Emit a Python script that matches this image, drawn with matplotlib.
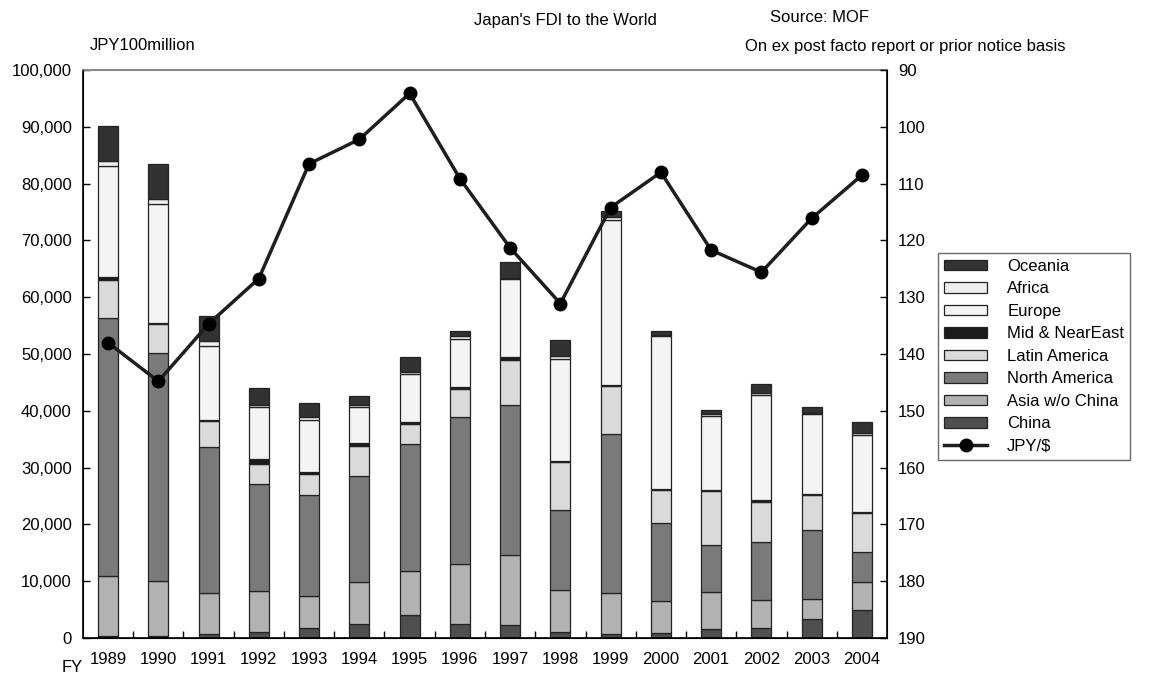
import numpy as np
import matplotlib
matplotlib.use("Agg")
import matplotlib.pyplot as plt
from matplotlib.ticker import FuncFormatter, FixedLocator

plt.rcParams['font.family'] = ['Liberation Sans', 'DejaVu Sans']

# Japan's FDI by region, JPY 100 million
years = ['1989', '1990', '1991', '1992', '1993', '1994', '1995', '1996',
         '1997', '1998', '1999', '2000', '2001', '2002', '2003', '2004']
china = [390, 350, 670, 1100, 1850, 2550, 4100, 2550,
         2300, 1100, 700, 900, 1600, 1850, 3300, 4900]
asia_wo_china = [10510, 9750, 7280, 7100, 5550, 7300, 7700, 10450,
                 12400, 7350, 7250, 5550, 6500, 4850, 3600, 4950]
north_america = [45500, 40100, 25750, 19000, 17700, 18650, 22300, 26000,
                 26400, 14150, 27950, 13850, 8300, 10200, 12200, 5350]
latin_america = [6700, 5100, 4500, 3400, 3800, 5300, 3600, 4800,
                 7800, 8400, 8400, 5800, 9500, 7000, 6100, 6900]
mid_near_east = [400, 200, 200, 900, 400, 500, 300, 400,
                 500, 200, 300, 100, 100, 400, 100, 100]
europe = [19600, 21000, 13000, 9100, 9100, 6400, 8500, 8500,
          13800, 18000, 29000, 27000, 13100, 18500, 14100, 13600]
africa = [900, 800, 900, 400, 500, 400, 300, 400,
          200, 400, 500, 200, 400, 300, 200, 300]
oceania = [6200, 6100, 4400, 3100, 2500, 1500, 2700, 900,
           2800, 2900, 1100, 700, 700, 1700, 1100, 1900]
jpy_usd = [138.0, 144.8, 134.7, 126.7, 106.5, 102.2, 94.1, 109.1,
           121.3, 131.1, 114.2, 108.0, 121.7, 125.6, 116.1, 108.5]

series = [
    ('China', china, '#4f4f4f'),
    ('Asia w/o China', asia_wo_china, '#b2b2b2'),
    ('North America', north_america, '#7a7a7a'),
    ('Latin America', latin_america, '#dadada'),
    ('Mid & NearEast', mid_near_east, '#1c1c1c'),
    ('Europe', europe, '#f4f4f4'),
    ('Africa', africa, '#eeeeee'),
    ('Oceania', oceania, '#323232'),
]

fig = plt.figure(figsize=(11.52, 6.81), dpi=100)
ax = fig.add_axes([0.072, 0.0631, 0.698, 0.834])

x = np.arange(len(years))
bottom = np.zeros(len(years))
handles = {}
for name, vals, col in series:
    bars = ax.bar(x, vals, width=0.4, bottom=bottom, color=col,
                  edgecolor='#222222', linewidth=0.9, zorder=2)
    handles[name] = bars
    bottom += np.array(vals)

ax.set_xlim(-0.5, len(years) - 0.5)
ax.set_ylim(0, 100000)
ax.set_yticks(np.arange(0, 100001, 10000))
ax.yaxis.set_major_formatter(FuncFormatter(lambda v, p: f'{int(v):,}'))
ax.set_xticks(x)
ax.set_xticklabels(years)
ax.xaxis.set_minor_locator(FixedLocator(np.arange(0.5, len(years) - 1, 1.0)))
ax.tick_params(axis='x', which='major', length=0, pad=10, labelsize=12)
ax.tick_params(axis='x', which='minor', direction='in', length=5, width=1)
ax.tick_params(axis='y', direction='in', length=5, width=1, labelsize=12, pad=8)
ax.spines['top'].set_color('#888888')
ax.spines['top'].set_linewidth(1.5)
for s in ['left', 'right', 'bottom']:
    ax.spines[s].set_linewidth(1.2)

ax2 = ax.twinx()
line, = ax2.plot(x, jpy_usd, color='#1e1e1e', linewidth=2.5,
                 marker='o', markersize=9, markerfacecolor='black',
                 markeredgecolor='black', zorder=5)
ax2.set_ylim(190, 90)
ax2.set_yticks(np.arange(90, 191, 10))
ax2.tick_params(axis='y', direction='in', length=5, width=1, labelsize=12, pad=8)
ax2.spines['top'].set_visible(False)

order = ['Oceania', 'Africa', 'Europe', 'Mid & NearEast', 'Latin America',
         'North America', 'Asia w/o China', 'China']
leg_handles = [handles[n] for n in order] + [line]
leg_labels = order + ['JPY/$']
leg = fig.legend(leg_handles, leg_labels, loc='upper left',
                 bbox_to_anchor=(938 / 1152, 1 - 253 / 681),
                 frameon=True, fancybox=False, edgecolor='#444444',
                 fontsize=12, handlelength=2.6, handleheight=0.6,
                 labelspacing=0.45, borderpad=0.35, handletextpad=1.2,
                 borderaxespad=0)
leg.get_frame().set_linewidth(1.0)

fig.text(565 / 1152, 1 - 20 / 681, "Japan's FDI to the World", ha='center',
         va='center', fontsize=12)
fig.text(770 / 1152, 1 - 18 / 681, 'Source: MOF', ha='left', va='center',
         fontsize=12)
fig.text(745 / 1152, 1 - 47 / 681,
         'On ex post facto report or prior notice basis', ha='left',
         va='center', fontsize=12)
fig.text(90 / 1152, 1 - 45 / 681, 'JPY100million', ha='left', va='center',
         fontsize=12)
fig.text(62 / 1152, 1 - 668 / 681, 'FY', ha='left', va='center', fontsize=12)

fig.savefig('out.png', dpi=100)
